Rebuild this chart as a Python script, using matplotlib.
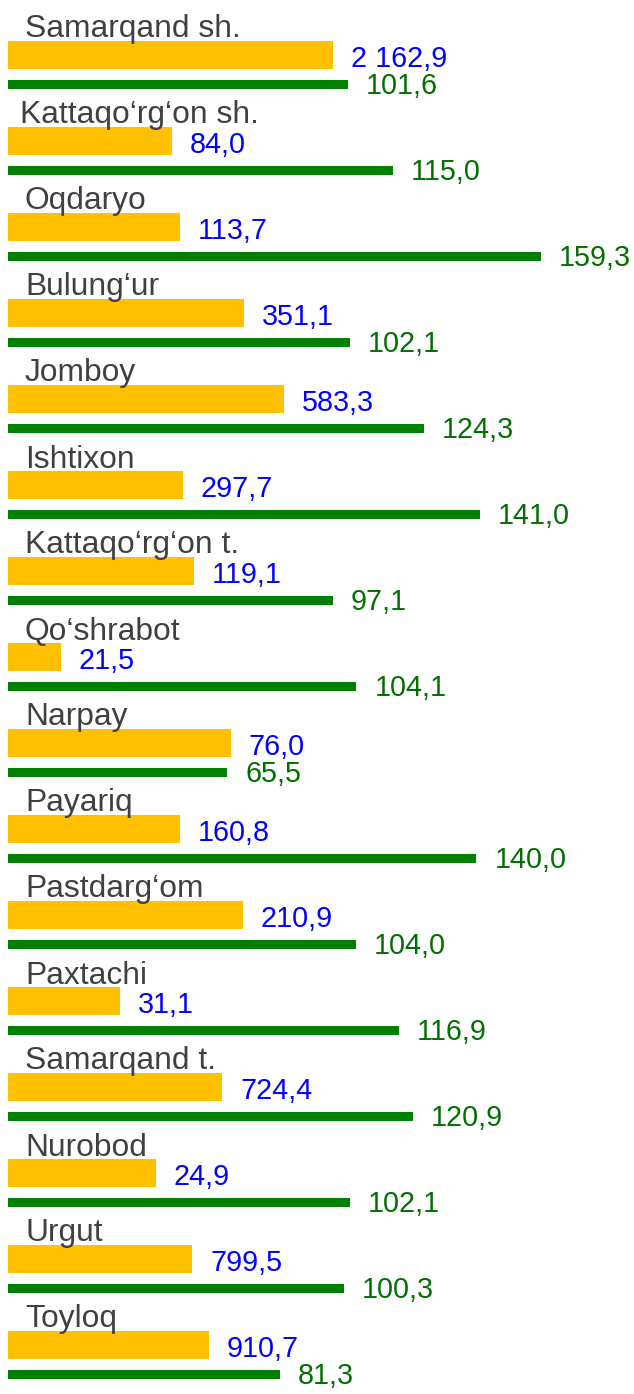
import matplotlib
matplotlib.use("Agg")
import matplotlib.pyplot as plt

categories = ["Samarqand sh.", "Kattaqo‘rg‘on sh.", "Oqdaryo", "Bulung‘ur", "Jomboy",
              "Ishtixon", "Kattaqo‘rg‘on t.", "Qo‘shrabot", "Narpay", "Payariq",
              "Pastdarg‘om", "Paxtachi", "Samarqand t.", "Nurobod", "Urgut", "Toyloq"]
# yellow bar lengths (as drawn) and their printed labels
yellow_len = [97.1, 49.0, 51.4, 70.5, 82.5, 52.3, 55.6, 15.8, 66.6, 51.4, 70.2, 33.5, 64.0, 44.2, 55.0, 60.1]
yellow_lbl = ["2 162,9", "84,0", "113,7", "351,1", "583,3", "297,7", "119,1", "21,5",
              "76,0", "160,8", "210,9", "31,1", "724,4", "24,9", "799,5", "910,7"]
# green bar values
green_val = [101.6, 115.0, 159.3, 102.1, 124.3, 141.0, 97.1, 104.1, 65.5, 140.0,
             104.0, 116.9, 120.9, 102.1, 100.3, 81.3]

W, H = 634, 1394
fig = plt.figure(figsize=(W / 100, H / 100), dpi=100)
ax = fig.add_axes([0, 0, 1, 1])
PX = 3.346  # pixels per value unit
ax.set_xlim(-8 / PX, (W - 8) / PX)
ax.set_ylim(H, 0)
ax.axis("off")

FONT = "Liberation Sans"
YEL, GRN = "#FFC000", "#008000"
PITCH = 86

for i, cat in enumerate(categories):
    base = PITCH * i
    yc = base + 55
    gc = base + 84.5
    ax.barh(yc, yellow_len[i], height=28, left=0, color=YEL, linewidth=0)
    ax.barh(gc, green_val[i], height=9.5, left=0, color=GRN, linewidth=0)
    lx = 12 if i == 1 else 17
    ax.annotate(cat, xy=(0, base + 37.5), xytext=(lx, 0), textcoords="offset pixels",
                fontsize=22.9, family=FONT, color="#404040", va="baseline", ha="left")
    ax.annotate(yellow_lbl[i], xy=(yellow_len[i], yc + 12), xytext=(18, 0),
                textcoords="offset pixels", fontsize=20.7, family=FONT,
                color="#0000FF", va="baseline", ha="left")
    g_txt = f"{green_val[i]:.1f}".replace(".", ",")
    ax.annotate(g_txt, xy=(green_val[i], gc + 10), xytext=(18, 0),
                textcoords="offset pixels", fontsize=20.7, family=FONT,
                color="#007000", va="baseline", ha="left")

fig.savefig("out.png", dpi=100, facecolor="white")
